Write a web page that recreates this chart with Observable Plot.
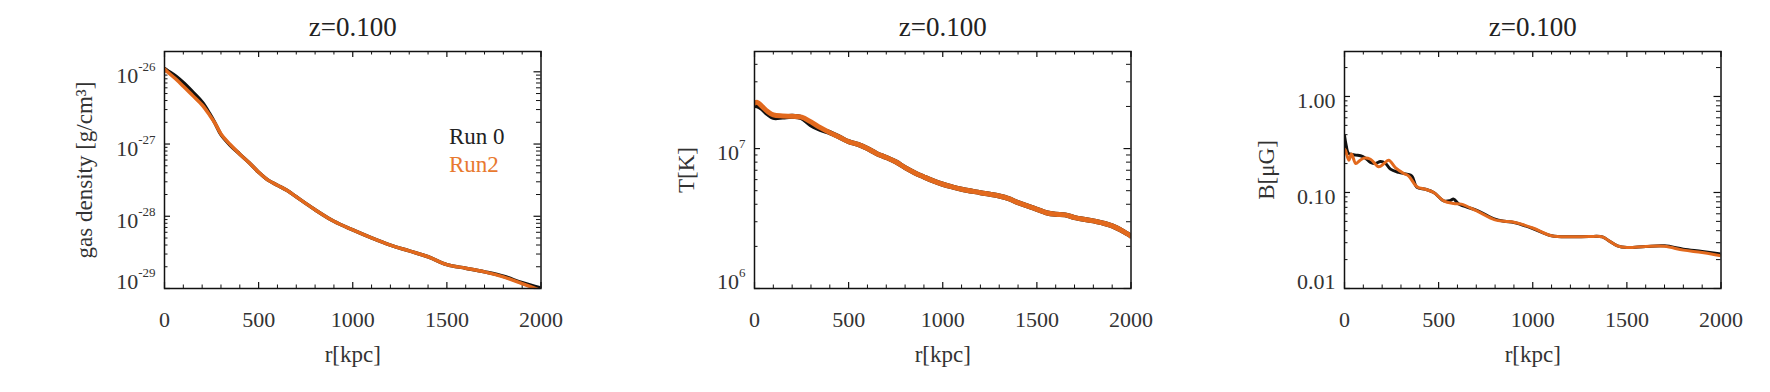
<!DOCTYPE html>
<html>
<head>
<meta charset="utf-8">
<script src="https://cdn.jsdelivr.net/npm/d3@7"></script>
<script src="https://cdn.jsdelivr.net/npm/@observablehq/plot@0.6"></script>
<style>
  html, body { margin: 0; padding: 0; background: #fff; }
  #row { display: flex; width: 1770px; height: 392px; }
  #row svg, #row svg text, #row svg tspan { font-family: "Liberation Serif", "Times New Roman", serif !important; }
</style>
</head>
<body>
<div id="row"></div>
<script>
// ---------- data ----------
const titleText = "z=0.100";
const xLabel = "r[kpc]";
const seriesNames = ["Run 0", "Run2"];
const xTicks = [0, 500, 1000, 1500, 2000];

// Panel 1: gas density [g/cm^3]
const densR = [0, 20, 60, 100, 150, 200, 240, 270, 300, 350, 400, 450, 500, 550, 600, 650, 700, 750, 800, 900, 1000, 1100, 1200, 1300, 1400, 1500, 1600, 1700, 1800, 1900, 2000];
const densRun0 = [1.109e-26, 1.023e-26, 8.71e-27, 7.08e-27, 5.25e-27, 3.80e-27, 2.63e-27, 1.91e-27, 1.35e-27, 9.55e-28, 7.24e-28, 5.50e-28, 4.07e-28, 3.16e-28, 2.69e-28, 2.29e-28, 1.86e-28, 1.51e-28, 1.23e-28, 8.51e-29, 6.46e-29, 5.01e-29, 3.98e-29, 3.31e-29, 2.75e-29, 2.14e-29, 1.91e-29, 1.70e-29, 1.48e-29, 1.20e-29, 1.01e-29];
const densRun2 = [1.096e-26, 9.77e-27, 7.94e-27, 6.31e-27, 4.68e-27, 3.47e-27, 2.51e-27, 1.91e-27, 1.38e-27, 9.77e-28, 7.24e-28, 5.50e-28, 4.07e-28, 3.16e-28, 2.69e-28, 2.29e-28, 1.86e-28, 1.51e-28, 1.23e-28, 8.51e-29, 6.46e-29, 5.01e-29, 3.98e-29, 3.31e-29, 2.75e-29, 2.14e-29, 1.91e-29, 1.70e-29, 1.45e-29, 1.17e-29, 9.33e-30];
const densTicks = [1e-29, 1e-28, 1e-27, 1e-26];
const densTickLabels = ["10^-29", "10^-28", "10^-27", "10^-26"];

// Panel 2: temperature [K]
const tempR = [0, 15, 40, 70, 100, 150, 200, 250, 300, 350, 400, 450, 500, 550, 600, 650, 700, 750, 800, 850, 900, 950, 1000, 1050, 1100, 1200, 1300, 1350, 1400, 1500, 1550, 1600, 1650, 1700, 1800, 1900, 2000];
const tempRun0 = [2.03e7, 2.02e7, 1.93e7, 1.77e7, 1.67e7, 1.68e7, 1.70e7, 1.66e7, 1.48e7, 1.37e7, 1.30e7, 1.21e7, 1.12e7, 1.07e7, 1.00e7, 9.20e6, 8.63e6, 8.04e6, 7.31e6, 6.73e6, 6.27e6, 5.87e6, 5.56e6, 5.32e6, 5.12e6, 4.84e6, 4.58e6, 4.39e6, 4.11e6, 3.68e6, 3.48e6, 3.39e6, 3.36e6, 3.21e6, 3.04e6, 2.80e6, 2.37e6];
const tempRun2 = [2.11e7, 2.14e7, 2.00e7, 1.84e7, 1.74e7, 1.71e7, 1.70e7, 1.68e7, 1.55e7, 1.41e7, 1.30e7, 1.21e7, 1.12e7, 1.07e7, 1.00e7, 9.20e6, 8.63e6, 8.04e6, 7.31e6, 6.73e6, 6.27e6, 5.87e6, 5.56e6, 5.32e6, 5.12e6, 4.84e6, 4.58e6, 4.39e6, 4.11e6, 3.68e6, 3.48e6, 3.39e6, 3.36e6, 3.21e6, 3.04e6, 2.80e6, 2.37e6];
const tempTicks = [1e6, 1e7];
const tempTickLabels = ["10^6", "10^7"];

// Panel 3: magnetic field [muG]
const bR0 = [0, 8, 20, 32, 60, 85, 110, 138, 164, 191, 217, 244, 288, 332, 358, 385, 430, 474, 527, 560, 580, 607, 700, 800, 850, 900, 1000, 1100, 1200, 1300, 1370, 1400, 1450, 1500, 1600, 1700, 1800, 1900, 2000];
const bRun0 = [0.389, 0.316, 0.257, 0.251, 0.245, 0.241, 0.229, 0.206, 0.200, 0.210, 0.202, 0.175, 0.162, 0.155, 0.148, 0.113, 0.108, 0.100, 0.0818, 0.0822, 0.0853, 0.0757, 0.0655, 0.0527, 0.0501, 0.0486, 0.0422, 0.0354, 0.0345, 0.0348, 0.0345, 0.0318, 0.0278, 0.0267, 0.0274, 0.0278, 0.0257, 0.0243, 0.0228];
const bR2 = [0, 5, 23, 37, 60, 80, 103, 138, 182, 210, 235, 270, 315, 340, 385, 430, 474, 527, 580, 620, 700, 800, 850, 900, 1000, 1100, 1200, 1300, 1370, 1400, 1450, 1500, 1600, 1700, 1800, 1900, 2000];
const bRun2 = [0.283, 0.275, 0.217, 0.251, 0.200, 0.214, 0.228, 0.222, 0.185, 0.200, 0.217, 0.182, 0.158, 0.149, 0.115, 0.108, 0.100, 0.0818, 0.0769, 0.0757, 0.0646, 0.0519, 0.0501, 0.0490, 0.0427, 0.0354, 0.0345, 0.0348, 0.0345, 0.0318, 0.0278, 0.0267, 0.0274, 0.0275, 0.0251, 0.0237, 0.0219];
const bTicks = [0.01, 0.1, 1];
const bTickLabels = ["0.01", "0.10", "1.00"];

// ---------- styling ----------
const W = 590, H = 392, mL = 164, mR = 49.5, mT = 51, mB = 104;
const innerW = W - mL - mR, innerH = H - mT - mB;
const FONT = "Liberation Serif";
const BLACK = "#111";
const ORANGE = "#e2691d";
const ORANGE_TEXT = "#e8792f";

function minorLogTicks(domain) {
  const out = [];
  const lo = Math.floor(Math.log10(domain[0])), hi = Math.ceil(Math.log10(domain[1]));
  for (let e = lo; e <= hi; e++) for (let k = 2; k <= 9; k++) {
    const v = k * Math.pow(10, e);
    if (v >= domain[0] * 0.999 && v <= domain[1] * 1.001) out.push(v);
  }
  return out;
}
const xMinor = d3.range(100, 2000, 100).filter(v => v % 500 !== 0);

function panel(cfg) {
  const rows0 = cfg.r0.map((r, i) => ({r, v: cfg.v0[i]}));
  const rows2 = cfg.r2.map((r, i) => ({r, v: cfg.v2[i]}));
  const yMinor = minorLogTicks(cfg.yDomain);
  const labelMap = new Map(cfg.ticks.map((t, i) => [t, cfg.tickLabels[i]]));
  const bottomTick = cfg.ticks.filter(t => Math.abs(t - cfg.yDomain[0]) / t < 1e-6);
  const otherTicks = cfg.ticks.filter(t => !bottomTick.includes(t));
  const marks = [
    // inside ticks on all four sides
    Plot.tickX(xTicks, {x: d => d, insetTop: innerH - 6, stroke: BLACK, strokeWidth: 1.2}),
    Plot.tickX(xMinor, {x: d => d, insetTop: innerH - 3.5, stroke: BLACK, strokeWidth: 1}),
    Plot.tickX(xTicks, {x: d => d, insetBottom: innerH - 6, stroke: BLACK, strokeWidth: 1.2}),
    Plot.tickX(xMinor, {x: d => d, insetBottom: innerH - 3.5, stroke: BLACK, strokeWidth: 1}),
    Plot.tickY(cfg.ticks, {y: d => d, insetRight: innerW - 6, stroke: BLACK, strokeWidth: 1.2}),
    Plot.tickY(yMinor, {y: d => d, insetRight: innerW - 3.5, stroke: BLACK, strokeWidth: 1}),
    Plot.tickY(cfg.ticks, {y: d => d, insetLeft: innerW - 7, stroke: BLACK, strokeWidth: 1.2}),
    Plot.tickY(yMinor, {y: d => d, insetLeft: innerW - 4.5, stroke: BLACK, strokeWidth: 1}),
    // data
    Plot.line(rows0, {x: "r", y: "v", stroke: BLACK, strokeWidth: cfg.lw, curve: "catmull-rom", clip: true, strokeLinejoin: "round", strokeLinecap: "round"}),
    Plot.line(rows2, {x: "r", y: "v", stroke: ORANGE, strokeWidth: cfg.lw, curve: "catmull-rom", clip: true, strokeLinejoin: "round", strokeLinecap: "round"}),
    Plot.frame({stroke: BLACK, strokeWidth: 1.5}),
    // x tick labels
    Plot.axisX(xTicks, {tickSize: 0, tickPadding: 23, fontSize: 22, fill: "#333", label: null, tickFormat: d => String(d)}),
    // y tick labels
    Plot.text(otherTicks, {y: d => d, text: d => labelMap.get(d), frameAnchor: "left", textAnchor: "end", lineAnchor: "middle", dx: -9, dy: 4.5, fontSize: 22, fill: "#333"}),
    Plot.text(bottomTick, {y: d => d, text: d => labelMap.get(d), frameAnchor: "left", textAnchor: "end", lineAnchor: "middle", dx: -9, dy: -7, fontSize: 22, fill: "#333"}),
    // title and axis labels
    Plot.text([titleText], {frameAnchor: "top", textAnchor: "middle", lineAnchor: "middle", dy: -24.6, fontSize: 27, fill: "#222", letterSpacing: "1.5px"}),
    Plot.text([xLabel], {frameAnchor: "bottom", textAnchor: "middle", lineAnchor: "middle", dy: 66.6, fontSize: 23, fill: "#333"}),
    Plot.text([cfg.ylabel], {frameAnchor: "left", textAnchor: "middle", lineAnchor: "middle", rotate: -90, dx: cfg.ylabelX - mL, fontSize: 23, fill: "#333"})
  ];
  if (cfg.legend) {
    marks.push(Plot.text([seriesNames[0]], {frameAnchor: "top-right", textAnchor: "start", lineAnchor: "middle", dx: -92, dy: 85.6, fontSize: 23, fill: "#222"}));
    marks.push(Plot.text([seriesNames[1]], {frameAnchor: "top-right", textAnchor: "start", lineAnchor: "middle", dx: -92, dy: 113.6, fontSize: 23, fill: ORANGE_TEXT}));
  }
  const svg = Plot.plot({
    width: W, height: H,
    marginLeft: mL, marginRight: mR, marginTop: mT, marginBottom: mB,
    style: {fontFamily: FONT, fontSize: "22px", color: "#333", background: "#fff", overflow: "visible"},
    x: {domain: [0, 2000], axis: null},
    y: {type: "log", domain: cfg.yDomain, axis: null},
    marks
  });
  // superscripts ("10^-26" -> 10 with raised -26)
  const ns = "http://www.w3.org/2000/svg";
  svg.querySelectorAll("text").forEach(t => {
    if (t.children.length) return;
    const m = t.textContent.match(/^(10)\^(\S+)$/);
    if (!m) return;
    t.textContent = "";
    const a = document.createElementNS(ns, "tspan"); a.textContent = m[1]; t.appendChild(a);
    const b = document.createElementNS(ns, "tspan"); b.textContent = m[2];
    b.setAttribute("font-size", "13"); b.setAttribute("dy", "-12"); t.appendChild(b);
  });
  return svg;
}

const row = document.getElementById("row");
row.appendChild(panel({
  r0: densR, v0: densRun0, r2: densR, v2: densRun2,
  yDomain: [1e-29, 1.91e-26], ticks: densTicks, tickLabels: densTickLabels,
  ylabel: "gas density [g/cm³]", ylabelX: 84.5, lw: 3.5, legend: true
}));
row.appendChild(panel({
  r0: tempR, v0: tempRun0, r2: tempR, v2: tempRun2,
  yDomain: [1e6, 4.94e7], ticks: tempTicks, tickLabels: tempTickLabels,
  ylabel: "T[K]", ylabelX: 96, lw: 5
}));
row.appendChild(panel({
  r0: bR0, v0: bRun0, r2: bR2, v2: bRun2,
  yDomain: [0.01, 2.94], ticks: bTicks, tickLabels: bTickLabels,
  ylabel: "B[μG]", ylabelX: 86, lw: 3
}));
</script>
</body>
</html>
